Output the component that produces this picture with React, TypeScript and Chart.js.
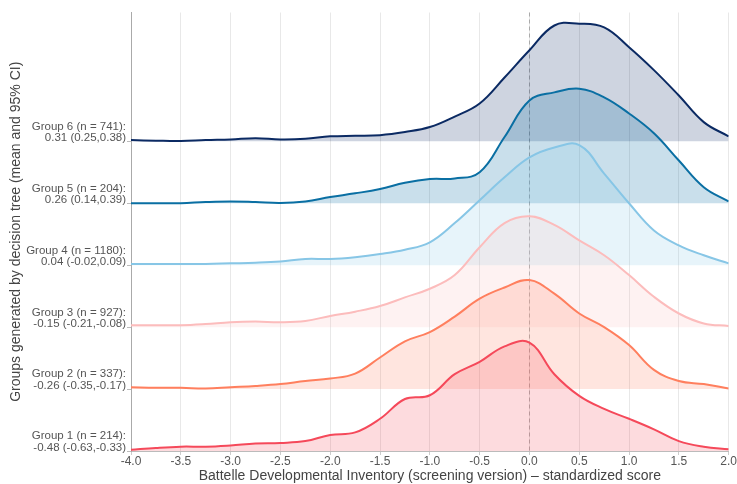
import React, { useEffect, useRef } from 'react';
import { Chart, registerables } from 'chart.js';

Chart.register(...registerables);

// x positions of the density estimates (standardized score)
const xValues = [
  -4, -3.75, -3.5, -3.25, -3, -2.75, -2.5, -2.25, -2, -1.75, -1.5, -1.25, -1,
  -0.75, -0.5, -0.25, 0, 0.25, 0.5, 0.75, 1, 1.25, 1.5, 1.75, 2,
];

// density heights (in ridge units) for each group
const group1 = [0.02, 0.05, 0.07, 0.07, 0.09, 0.12, 0.13, 0.16, 0.26, 0.3, 0.52, 0.84, 0.9, 1.24, 1.44, 1.69, 1.75, 1.24, 0.89, 0.68, 0.52, 0.35, 0.16, 0.07, 0.03];
const group2 = [0.03, 0.02, 0.02, 0.01, 0.03, 0.05, 0.08, 0.13, 0.17, 0.25, 0.51, 0.77, 0.92, 1.17, 1.46, 1.64, 1.76, 1.54, 1.22, 1.0, 0.71, 0.31, 0.13, 0.08, 0.01];
const group3 = [0.03, 0.03, 0.03, 0.05, 0.08, 0.09, 0.08, 0.1, 0.18, 0.25, 0.34, 0.48, 0.62, 0.84, 1.29, 1.68, 1.79, 1.65, 1.4, 1.16, 0.84, 0.49, 0.22, 0.06, 0.02];
const group4 = [0.02, 0.02, 0.02, 0.02, 0.03, 0.04, 0.06, 0.1, 0.1, 0.13, 0.18, 0.25, 0.37, 0.68, 1.05, 1.42, 1.74, 1.9, 1.94, 1.48, 1.0, 0.56, 0.32, 0.16, 0.03];
const group5 = [0, 0, 0, 0.02, 0.03, 0.02, 0.005, 0.03, 0.1, 0.16, 0.23, 0.33, 0.39, 0.4, 0.5, 1.07, 1.66, 1.79, 1.85, 1.71, 1.45, 1.13, 0.69, 0.26, 0.03];
const group6 = [0.02, 0.01, 0.005, 0.02, 0.03, 0.05, 0.03, 0.04, 0.08, 0.09, 0.1, 0.15, 0.23, 0.4, 0.61, 1.03, 1.47, 1.87, 1.9, 1.84, 1.52, 1.15, 0.74, 0.31, 0.08];

const groupLabels = [
  ['Group 1 (n = 214):', '-0.48 (-0.63,-0.33)'],
  ['Group 2 (n = 337):', '-0.26 (-0.35,-0.17)'],
  ['Group 3 (n = 927):', '-0.15 (-0.21,-0.08)'],
  ['Group 4 (n = 1180):', '0.04 (-0.02,0.09)'],
  ['Group 5 (n = 204):', '0.26 (0.14,0.39)'],
  ['Group 6 (n = 741):', '0.31 (0.25,0.38)'],
];

const lineColors = ['#f5495a', '#ff7f5e', '#fcbcbc', '#87c6e6', '#0a6fa3', '#0b2a63'];
const fillColors = [
  'rgba(245,73,90,0.2)',
  'rgba(255,127,94,0.2)',
  'rgba(252,188,188,0.2)',
  'rgba(135,198,230,0.2)',
  'rgba(10,111,163,0.22)',
  'rgba(11,42,99,0.2)',
];

const xTitle = 'Battelle Developmental Inventory (screening version) \u2013 standardized score';
const yTitle = 'Groups generated by decision tree (mean and 95% CI)';

const FONT = '"Liberation Sans", Arial, Helvetica, sans-serif';

export default function App() {
  const ref = useRef<HTMLCanvasElement>(null);

  useEffect(() => {
    document.body.style.margin = '0';
    const series = [group1, group2, group3, group4, group5, group6];
    const datasets = series.map((vals, i) => ({
      label: groupLabels[i][0],
      data: vals.map((v, j) => ({ x: xValues[j], y: i + v })),
      borderColor: lineColors[i],
      backgroundColor: fillColors[i],
      borderWidth: 2,
      pointRadius: 0,
      fill: { value: i },
      tension: 0.4,
    }));

    const zeroLine = {
      id: 'zeroLine',
      beforeDatasetsDraw(chart: any) {
        const { ctx, chartArea, scales } = chart;
        const x = scales.x.getPixelForValue(0);
        ctx.save();
        ctx.strokeStyle = '#aaaaaa';
        ctx.lineWidth = 1;
        ctx.setLineDash([4, 3]);
        ctx.beginPath();
        ctx.moveTo(Math.round(x) + 0.5, chartArea.top);
        ctx.lineTo(Math.round(x) + 0.5, chartArea.bottom);
        ctx.stroke();
        ctx.restore();
      },
    };

    const chart = new Chart(ref.current!, {
      type: 'line',
      data: { datasets },
      plugins: [zeroLine],
      options: {
        animation: false,
        responsive: true,
        maintainAspectRatio: false,
        layout: { padding: { top: 12, right: 8, left: 0, bottom: 0 } },
        plugins: { legend: { display: false }, tooltip: { enabled: false } },
        scales: {
          x: {
            type: 'linear',
            min: -4,
            max: 2,
            afterFit: (s: any) => { s.height = 33; },
            ticks: {
              stepSize: 0.5,
              autoSkip: false,
              maxRotation: 0,
              callback: (v: any) => Number(v).toFixed(1),
              font: { family: FONT, size: 12, lineHeight: 1.1 },
              color: '#555555',
              padding: 0,
            },
            grid: { color: '#e8e8e8', tickLength: 4, tickColor: '#cccccc' },
            border: { display: true, color: '#bbbbbb' },
            title: {
              display: true,
              text: xTitle,
              font: { family: FONT, size: 14, lineHeight: 1.05 },
              color: '#444444',
              padding: { top: 0, bottom: 1 },
            },
          },
          y: {
            type: 'linear',
            min: 0,
            max: 7.08,
            afterFit: (s: any) => { s.width = 131; },
            afterBuildTicks: (s: any) => { s.ticks = [0, 1, 2, 3, 4, 5].map((v) => ({ value: v })); },
            ticks: {
              callback: (v: any) => groupLabels[Math.round(Number(v))],
              font: { family: FONT, size: 11.5, lineHeight: 1.0 },
              color: '#555555',
              labelOffset: -9,
              padding: 1,
            },
            grid: { drawOnChartArea: false, drawTicks: true, tickLength: 4, color: '#bbbbbb' },
            border: { display: true, color: '#aaaaaa' },
            title: {
              display: true,
              text: yTitle,
              font: { family: FONT, size: 14 },
              color: '#444444',
              padding: { top: 8, bottom: 0 },
            },
          },
        },
      },
    });
    return () => chart.destroy();
  }, []);

  return (
    <div style={{ width: 737, height: 484, position: 'relative' }}>
      <canvas ref={ref} />
    </div>
  );
}
